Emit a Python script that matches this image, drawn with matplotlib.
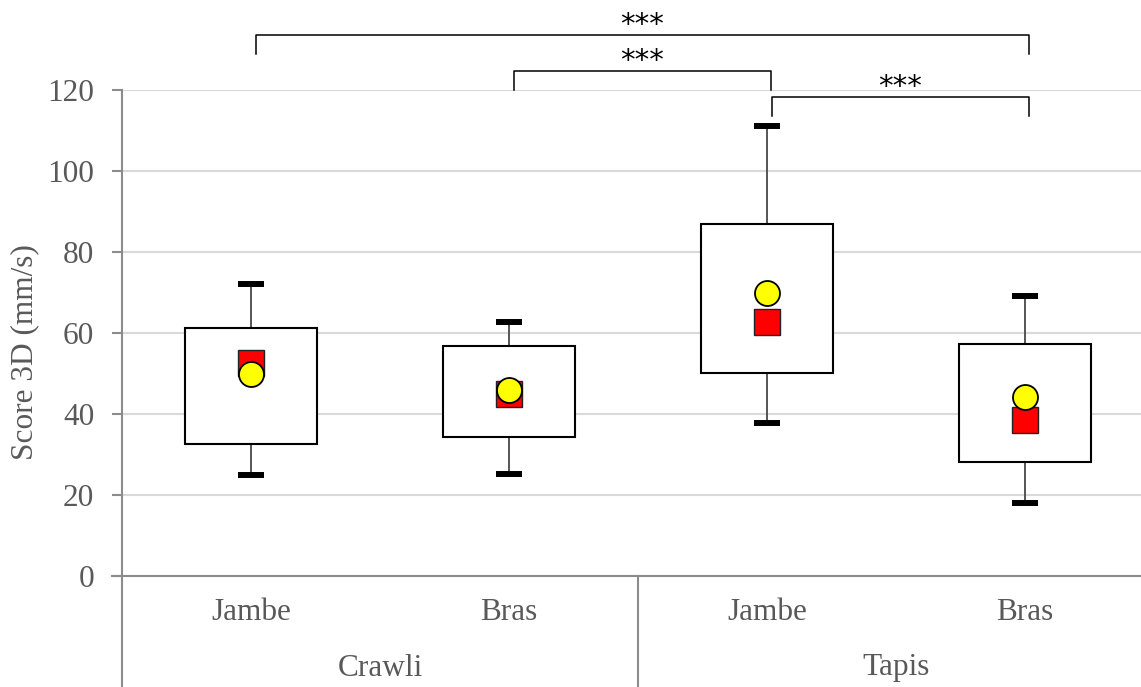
import matplotlib.pyplot as plt
from matplotlib.lines import Line2D

# data
groups = ["Crawli", "Tapis"]
members = ["Jambe", "Bras", "Jambe", "Bras"]
q1 = [32.6, 34.3, 50.1, 28.2]
q3 = [61.2, 56.9, 87.0, 57.2]
whisker_low = [24.9, 25.3, 37.9, 18.1]
whisker_high = [72.1, 62.6, 111.2, 69.2]
median = [52.6, 44.9, 62.8, 38.5]
mean = [49.9, 45.9, 70.0, 44.1]

# significance brackets: (left box, right box, height)
pairs = [(0, 3), (1, 2), (2, 3)]
bracket_levels = [133.6, 124.7, 118.3]
bracket_labels = ["***", "***", "***"]

plt.rcParams["font.family"] = ["Liberation Serif", "DejaVu Serif"]

W, H = 1141, 687
fig = plt.figure(figsize=(W / 100, H / 100), dpi=100)
ax = fig.add_axes([122 / W, (H - 576) / H, 1032 / W, 486 / H])

GRID = "#d9d9d9"
AXIS = "#8c8c8c"
TEXT = "#595959"

x = list(range(len(members)))
ax.set_xlim(-0.5, len(members) - 0.5)
ax.set_ylim(0, 120)
ax.set_yticks(range(0, 121, 20))
ax.yaxis.grid(True, color=GRID, linewidth=1.5)
ax.set_axisbelow(True)

for side in ["top", "right", "bottom"]:
    ax.spines[side].set_visible(False)
ax.spines["left"].set_color(AXIS)
ax.spines["left"].set_linewidth(1.5)
ax.tick_params(axis="y", colors=AXIS, labelcolor=TEXT, labelsize=22.5,
               length=7, width=1.5, pad=13)
ax.set_xticks([])

# boxes
ax.bar(x, [b - a for a, b in zip(q1, q3)], bottom=q1, width=0.515,
       color="white", edgecolor="black", linewidth=1.5, zorder=3)

# whiskers + caps
ax.vlines(x, q3, whisker_high, color="#555555", linewidth=1.4, zorder=2)
ax.vlines(x, whisker_low, q1, color="#555555", linewidth=1.4, zorder=2)
for xi, lo, hi in zip(x, whisker_low, whisker_high):
    for yv in (lo, hi):
        ax.plot([xi - 0.052, xi + 0.052], [yv, yv], color="black",
                linewidth=4.3, solid_capstyle="butt", zorder=4)

# markers
ax.plot(x, median, linestyle="none", marker="s", markersize=19,
        markerfacecolor="#ff0000", markeredgecolor="#222222",
        markeredgewidth=1.0, zorder=5)
ax.plot(x, mean, linestyle="none", marker="o", markersize=18,
        markerfacecolor="#ffff00", markeredgecolor="black",
        markeredgewidth=1.3, zorder=6)

# significance brackets above the plot
for (a, b), lvl, lab in zip(pairs, bracket_levels, bracket_labels):
    leg = 4.8
    a, b = a + 0.02, b + 0.015
    ax.plot([a, a, b, b], [lvl - leg, lvl, lvl, lvl - leg], color="black",
            linewidth=1.1, clip_on=False, zorder=5,
            solid_joinstyle="round")
    ax.text((a + b) / 2, lvl + 0.5, lab, ha="center", va="baseline",
            fontsize=21, family="DejaVu Sans", clip_on=False)

# two-level category axis drawn in axes coordinates below the plot
trans = ax.get_xaxis_transform()
ax.add_line(Line2D([-0.5 - 10 / 258, len(members) - 0.5], [0, 0],
                   transform=trans, color=AXIS, linewidth=1.5,
                   clip_on=False))
for xd in (-0.5, 1.5, 3.5):
    ax.add_line(Line2D([xd, xd], [0, -111 / 486], transform=trans,
                       color=AXIS, linewidth=1.5, clip_on=False))
for xi, name in zip(x, members):
    ax.text(xi, -36 / 486, name, transform=trans, ha="center", va="center",
            fontsize=22.5, color=TEXT)
for gi, name in enumerate(groups):
    ax.text(gi * 2 + 0.5, -92 / 486, name, transform=trans, ha="center",
            va="center", fontsize=22.5, color=TEXT)

fig.text(25 / W, 1 - 352 / H, "Score 3D (mm/s)", rotation=90, ha="center",
         va="center", fontsize=22.5, color=TEXT)

fig.savefig("out.png", dpi=100)
